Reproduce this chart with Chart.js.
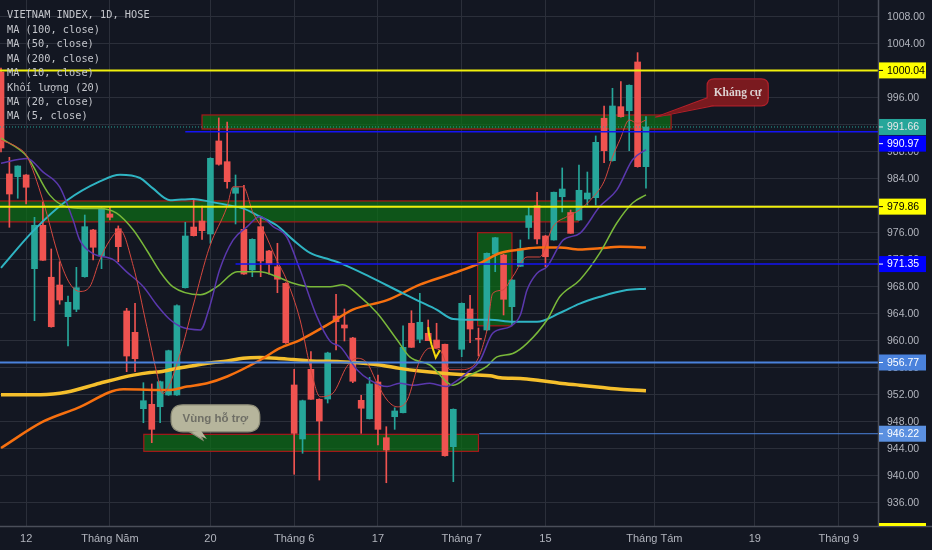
<!DOCTYPE html>
<html lang="vi">
<head>
<meta charset="utf-8">
<title>VIETNAM INDEX, 1D, HOSE</title>
<script src="https://cdn.jsdelivr.net/npm/chart.js@4.4.1/dist/chart.umd.min.js"></script>
<style>
html, body { margin: 0; padding: 0; background: #131722; }
#wrap { position: relative; width: 932px; height: 550px; }
</style>
</head>
<body>
<div id="wrap"><canvas id="chartVn"></canvas></div>
<script>
// time axis: trading day index of each label and its text
var dayTicks = [3, 13, 25, 35, 45, 55, 65, 78, 90, 100];
var dayLabels = ['12', 'Tháng Năm', '20', 'Tháng 6', '17', 'Tháng 7', '15', 'Tháng Tám', '19', 'Tháng 9'];
var priceTicks = [936, 940, 944, 948, 952, 956, 960, 964, 968, 972, 976, 980, 984, 988, 992, 996, 1000, 1004, 1008];

// daily candles (day 0 = first visible candle)
var opens = [999.8, 984.7, 984.3, 984.55, 970.67, 977.1, 969.4, 968.25, 963.56, 964.65,
    969.48, 976.4, 972.55, 978.77, 976.59, 964.4, 961.24, 949.93, 950.58, 950.22,
    951.96, 951.96, 967.85, 976.84, 977.73, 975.81, 989.59, 986.52, 981.84, 976.5,
    970.47, 976.89, 973.29, 970.96, 968.5, 953.44, 945.44, 955.76, 951.32, 951.36,
    963.66, 962.33, 960.4, 951.17, 948.44, 953.88, 945.63, 948.74, 949.33, 962.58,
    960.21, 961.1, 960.1, 959.47, 944.3, 958.73, 964.7, 960.33, 961.59, 972.84,
    972.7, 965.04, 971.02, 976.77, 980.0, 975.51, 974.92, 981.33, 978.99, 977.88,
    980.99, 981.19, 992.95, 986.67, 994.67, 994.07, 1001.29, 985.78];
var highs = [1000.4, 987.17, 985.9, 984.6, 978.28, 980.55, 973.59, 971.7, 966.62, 970.87,
    978.62, 976.5, 979.7, 979.85, 977.0, 964.8, 965.54, 953.78, 953.59, 954.0,
    958.6, 965.3, 977.54, 981.0, 979.96, 987.1, 993.0, 992.4, 984.55, 983.02,
    975.1, 978.37, 973.4, 974.43, 968.6, 955.76, 951.2, 958.37, 951.4, 958.3,
    966.87, 964.7, 960.5, 951.91, 954.58, 954.92, 947.26, 950.07, 962.22, 964.44,
    967.02, 963.07, 962.58, 959.5, 949.9, 965.6, 966.73, 961.88, 973.0, 975.3,
    972.8, 969.0, 974.92, 979.85, 981.99, 975.6, 982.0, 985.59, 979.36, 986.03,
    984.99, 990.33, 994.77, 997.39, 998.37, 997.9, 1002.67, 993.19];
var lows = [987.96, 976.8, 981.1, 980.25, 962.96, 971.9, 962.0, 965.4, 959.21, 964.3,
    969.4, 971.96, 970.67, 977.9, 971.7, 955.41, 955.41, 947.85, 944.89, 947.85,
    951.9, 951.9, 967.8, 975.5, 975.02, 974.43, 986.0, 982.58, 977.29, 969.8,
    969.48, 969.48, 969.84, 967.11, 959.6, 940.21, 943.32, 951.3, 939.36, 950.77,
    958.62, 959.96, 953.78, 946.28, 948.4, 944.55, 938.96, 946.87, 949.3, 959.0,
    959.7, 960.0, 958.9, 942.9, 939.11, 957.63, 959.7, 957.73, 961.5, 970.22,
    963.81, 962.33, 971.0, 975.07, 974.33, 970.96, 974.9, 979.07, 975.9, 977.8,
    980.1, 980.1, 986.37, 986.6, 993.1, 988.15, 985.7, 982.58];
var closes = [988.55, 981.73, 985.88, 982.73, 977.1, 971.91, 962.07, 966.03, 965.69, 967.85,
    976.89, 973.84, 979.61, 978.28, 973.93, 957.73, 957.33, 951.11, 946.87, 953.93,
    958.52, 965.19, 975.51, 975.56, 976.3, 987.02, 986.13, 983.56, 982.67, 969.88,
    975.02, 971.81, 971.36, 969.1, 959.7, 946.28, 951.11, 951.32, 948.1, 958.18,
    962.81, 961.88, 953.99, 949.99, 953.59, 946.87, 943.81, 949.59, 959.02, 959.02,
    962.73, 960.0, 958.92, 942.96, 949.84, 965.54, 961.73, 960.2, 972.95, 975.26,
    966.13, 968.99, 973.59, 978.52, 975.07, 972.44, 981.99, 982.47, 975.91, 982.28,
    981.88, 989.39, 988.15, 994.77, 993.19, 997.84, 985.78, 991.66];

// moving averages: day positions and values
var ma5Days = [0, 1.9, 3.1, 5.0, 7.0, 8.2, 9.4, 10.6, 11.8, 13.0, 14.2, 15.8, 17.4, 18.6, 19.3,
    21.4, 22.9, 24.9, 27.0, 27.7, 28.9, 30.1, 31.3, 32.9, 34.1, 35.7, 36.9, 38.1, 39.6,
    41.3, 42.5, 43.7, 44.9, 46.1, 47.3, 48.5, 50.0, 51.2, 52.4, 53.6, 54.8, 56.3, 58.0,
    58.7, 59.9, 61.1, 62.8, 64.3, 65.9, 67.6, 69.1, 70.7, 72.0, 73.0, 73.9, 75.0, 76.0, 77.0];
var ma5 = [989.7, 988.7, 987.3, 980.8, 972.0, 968.5, 967.3, 968.0, 972.0, 974.9, 976.4, 971.0, 962.1, 955.2, 952.2,
    958.1, 965.0, 973.9, 979.9, 982.8, 982.8, 978.9, 976.4, 972.0, 969.0, 963.1, 956.2, 951.7, 952.2,
    956.2, 957.4, 956.7, 953.7, 951.2, 950.2, 951.2, 957.1, 958.9, 958.6, 955.7, 955.7, 956.2, 961.5,
    967.0, 967.5, 969.5, 972.4, 972.4, 976.9, 978.4, 979.4, 981.3, 983.6, 987.2, 989.8, 992.7, 992.2, 992.7];
var ma10Days = [0, 3.1, 5.0, 7.0, 8.6, 9.4, 11.0, 13.4, 15.0, 17.0, 18.6, 20.2, 21.4, 23.8, 24.9, 26.1,
    27.7, 29.4, 30.9, 32.5, 34.1, 35.7, 37.7, 39.3, 40.5, 42.5, 44.0, 46.1, 47.6, 49.2, 51.2,
    53.2, 54.0, 55.6, 57.2, 58.7, 60.8, 62.0, 62.8, 64.0, 65.2, 67.1, 69.1, 71.5, 73.5, 75.4, 77.0];
var ma10 = [986.3, 987.0, 985.0, 982.8, 977.9, 974.9, 972.9, 972.0, 970.2, 968.0, 965.3, 963.1, 962.1, 961.6, 965.0, 970.5,
    974.9, 976.9, 978.4, 976.9, 975.4, 970.5, 963.6, 959.9, 959.1, 955.7, 954.2, 953.2, 953.7, 953.4, 953.7,
    953.2, 953.7, 955.2, 957.1, 961.1, 962.1, 963.8, 967.5, 970.0, 971.0, 974.9, 975.9, 979.9, 982.3, 986.8, 988.3];
var ma20Days = [0, 3.1, 5.8, 7.9, 9.8, 11.8, 13.8, 15.8, 17.4, 19.0, 20.5, 23.8, 25.8, 28.2, 30.9, 32.9,
    34.9, 36.9, 39.3, 40.8, 42.9, 44.9, 47.3, 48.8, 51.2, 54.0, 56.0, 58.0, 59.2, 61.1, 62.8,
    65.2, 66.7, 69.1, 71.5, 73.5, 75.4, 77.0];
var ma20 = [990.0, 987.3, 981.6, 979.8, 979.6, 979.6, 978.9, 976.4, 973.4, 970.2, 968.0, 966.8, 968.0, 970.2, 970.2, 969.5,
    968.5, 968.0, 968.0, 968.3, 966.5, 964.1, 960.1, 957.6, 956.4, 953.4, 954.9, 956.2, 957.6, 958.1, 959.6,
    963.1, 966.5, 969.0, 973.0, 977.4, 980.4, 981.6];
var ma50Days = [0, 3.8, 7.9, 11.8, 14.2, 16.6, 18.1, 20.2, 22.9, 24.9, 27.0, 28.9, 30.9, 32.9, 34.9, 36.9,
    39.3, 40.5, 44.0, 48.0, 50.0, 52.0, 54.0, 56.0, 58.4, 61.1, 64.0, 66.7, 69.1, 71.5, 74.7, 77.0];
var ma50 = [970.8, 976.2, 980.8, 983.6, 984.6, 984.1, 982.6, 980.8, 981.0, 980.6, 980.1, 979.6, 978.4, 977.1, 974.9, 973.0,
    972.0, 971.5, 969.5, 967.0, 965.8, 964.6, 963.2, 963.1, 963.1, 962.8, 962.8, 964.1, 965.5, 966.5, 967.5, 967.7];
var ma100Days = [0, 5.0, 9.1, 14.6, 20.2, 22.2, 24.6, 27.0, 30.9, 33.3, 35.7, 39.3, 42.0, 46.1, 50.0, 54.0,
    57.2, 59.6, 62.0, 64.3, 66.7, 69.1, 71.5, 73.9, 77.0];
var ma100 = [944.1, 948.0, 950.0, 952.8, 952.7, 953.2, 953.7, 954.7, 957.1, 958.9, 960.1, 962.6, 964.6, 966.0, 968.3, 970.0,
    971.5, 973.0, 973.5, 973.8, 973.8, 973.5, 973.7, 973.9, 973.8];
var ma200Days = [0, 4.7, 7.9, 11.8, 15.8, 17.8, 19.0, 21.0, 22.9, 24.9, 27.0, 28.9, 30.9, 32.9, 34.9, 36.9,
    40.5, 42.9, 45.2, 47.6, 50.0, 52.4, 54.8, 58.4, 59.6, 62.0, 64.3, 66.7, 69.1, 71.5, 73.9, 77.0];
var ma200 = [952.0, 952.0, 952.4, 953.7, 954.9, 955.3, 955.4, 955.9, 956.3, 956.7, 957.0, 957.4, 957.5, 957.4, 957.2, 957.0,
    956.9, 956.7, 956.4, 955.9, 955.5, 955.2, 955.0, 954.8, 954.5, 954.4, 954.1, 953.7, 953.4, 953.1, 952.8, 952.6];

// horizontal levels drawn on the chart
var levelPrices = [1000.04, 979.86, 990.97, 971.35, 956.77, 946.22];

var legendLines = ['VIETNAM INDEX, 1D, HOSE', 'MA (100, close)', 'MA (50, close)', 'MA (200, close)',
    'MA (10, close)', 'Khối lượng (20)', 'MA (20, close)', 'MA (5, close)'];

var UP = '#26a69a';
var DOWN = '#ef5350';
var GRID = '#2b2f3a';
var TEXT = '#b2b5be';

// styles of the levels (same order as levelPrices)
var levelStyles = [
    { from: -2, color: '#f0f00c', width: 2, bg: '#ffff00', fg: '#000000', shift: 0 },
    { from: -2, color: '#f0f00c', width: 2, bg: '#ffff00', fg: '#000000', shift: 0 },
    { from: 22.0, color: '#1414f5', width: 1.5, bg: '#0000ff', fg: '#ffffff', shift: 12 },
    { from: 28.0, color: '#1414f5', width: 1.5, bg: '#0000ff', fg: '#ffffff', shift: 0 },
    { from: -2, color: '#4a82dc', width: 2, bg: '#4a82dc', fg: '#ffffff', shift: 0 },
    { from: 57.1, color: '#4a82dc', width: 1, bg: '#5b90e0', fg: '#ffffff', shift: 0 }
];

// rectangles drawn on the chart, in day / price units
var zones = [
    { x1: 24.0, x2: 80.0, top: 993.44, bottom: 991.36 },
    { x1: -2, x2: 68.9, top: 980.7, bottom: 977.6 },
    { x1: 56.9, x2: 61.0, top: 976.0, bottom: 962.2 },
    { x1: 17.05, x2: 57.0, top: 946.13, bottom: 943.61 }
];

var callouts = [
    { text: 'Kháng cự', x1: 84.3, x2: 91.6, top: 998.8, bottom: 994.8,
      tip: [78.1, 993.1], base: [[84.4, 996.0], [85.0, 994.8]],
      fill: '#7a1a1f', stroke: '#b0202a', color: '#ddd2d2', font: 'bold 11.5px "Liberation Serif"', radius: 7 },
    { text: 'Vùng hỗ trợ', x1: 20.3, x2: 30.9, top: 950.5, bottom: 946.5,
      tip: [24.1, 945.3], base: [[22.5, 946.5], [23.7, 946.5]],
      fill: '#b6b59c', stroke: '#8e8d78', color: '#6f6f66', font: 'bold 11.5px "Liberation Sans"', radius: 12 }
];

var squiggle = [[51.0, 962.0], [51.1, 960.9], [51.4, 959.4], [51.9, 957.5], [52.4, 958.6]];

function roundRect(ctx, x, y, w, h, r) {
    ctx.beginPath();
    ctx.moveTo(x + r, y);
    ctx.lineTo(x + w - r, y);
    ctx.quadraticCurveTo(x + w, y, x + w, y + r);
    ctx.lineTo(x + w, y + h - r);
    ctx.quadraticCurveTo(x + w, y + h, x + w - r, y + h);
    ctx.lineTo(x + r, y + h);
    ctx.quadraticCurveTo(x, y + h, x, y + h - r);
    ctx.lineTo(x, y + r);
    ctx.quadraticCurveTo(x, y, x + r, y);
    ctx.closePath();
}

function clipArea(chart) {
    var a = chart.chartArea;
    var ctx = chart.ctx;
    ctx.save();
    ctx.beginPath();
    ctx.rect(a.left, a.top, a.right - a.left, a.bottom - a.top);
    ctx.clip();
}

// no extra room for the edge labels: the plot fills the canvas
function noPadding(scale) {
    scale.paddingTop = 0;
    scale.paddingBottom = 0;
    scale.paddingLeft = 0;
    scale.paddingRight = 0;
}

var drawings = {
    id: 'drawings',
    beforeDraw: function (chart) {
        var ctx = chart.ctx;
        ctx.save();
        ctx.fillStyle = '#131722';
        ctx.fillRect(0, 0, chart.width, chart.height);
        ctx.restore();
    },
    beforeDatasetsDraw: function (chart) {
        var ctx = chart.ctx, xs = chart.scales.x, ys = chart.scales.y;
        clipArea(chart);
        zones.forEach(function (z) {
            var x1 = xs.getPixelForValue(z.x1), x2 = xs.getPixelForValue(z.x2);
            var y1 = ys.getPixelForValue(z.top), y2 = ys.getPixelForValue(z.bottom);
            ctx.fillStyle = 'rgba(12,110,22,0.72)';
            ctx.fillRect(x1, y1, x2 - x1, y2 - y1);
            ctx.strokeStyle = '#a8181a';
            ctx.lineWidth = 1.2;
            ctx.strokeRect(x1, y1, x2 - x1, y2 - y1);
        });
        ctx.restore();
    },
    afterDatasetsDraw: function (chart) {
        var ctx = chart.ctx, xs = chart.scales.x, ys = chart.scales.y, a = chart.chartArea;
        clipArea(chart);
        // last price line
        var yl = ys.getPixelForValue(closes[closes.length - 1]);
        ctx.strokeStyle = UP;
        ctx.lineWidth = 1;
        ctx.setLineDash([1, 2]);
        ctx.beginPath();
        ctx.moveTo(a.left, yl);
        ctx.lineTo(a.right, yl);
        ctx.stroke();
        ctx.setLineDash([]);
        // horizontal levels
        levelPrices.forEach(function (p, i) {
            var s = levelStyles[i];
            var y = ys.getPixelForValue(p);
            ctx.strokeStyle = s.color;
            ctx.lineWidth = s.width;
            ctx.beginPath();
            ctx.moveTo(xs.getPixelForValue(s.from), y);
            ctx.lineTo(a.right, y);
            ctx.stroke();
        });
        // small yellow mark
        ctx.strokeStyle = '#f2d60c';
        ctx.lineWidth = 2;
        ctx.beginPath();
        squiggle.forEach(function (pt, i) {
            var x = xs.getPixelForValue(pt[0]), y = ys.getPixelForValue(pt[1]);
            if (i === 0) ctx.moveTo(x, y); else ctx.lineTo(x, y);
        });
        ctx.stroke();
        // callouts
        callouts.forEach(function (c) {
            var x1 = xs.getPixelForValue(c.x1), x2 = xs.getPixelForValue(c.x2);
            var y1 = ys.getPixelForValue(c.top), y2 = ys.getPixelForValue(c.bottom);
            var tx = xs.getPixelForValue(c.tip[0]), ty = ys.getPixelForValue(c.tip[1]);
            ctx.fillStyle = c.fill;
            ctx.strokeStyle = c.stroke;
            ctx.lineWidth = 1.2;
            ctx.beginPath();
            ctx.moveTo(xs.getPixelForValue(c.base[0][0]), ys.getPixelForValue(c.base[0][1]));
            ctx.lineTo(tx, ty);
            ctx.lineTo(xs.getPixelForValue(c.base[1][0]), ys.getPixelForValue(c.base[1][1]));
            ctx.closePath();
            ctx.fill();
            ctx.stroke();
            roundRect(ctx, x1, y1, x2 - x1, y2 - y1, c.radius);
            ctx.fill();
            ctx.stroke();
            ctx.beginPath();
            ctx.moveTo(xs.getPixelForValue(c.base[0][0]) + 1.5, ys.getPixelForValue(c.base[0][1]));
            ctx.lineTo(tx + 4, ty - 1);
            ctx.lineTo(xs.getPixelForValue(c.base[1][0]) + 1.5, ys.getPixelForValue(c.base[1][1]) - 1);
            ctx.closePath();
            ctx.fill();
            ctx.fillStyle = c.color;
            ctx.font = c.font;
            ctx.textAlign = 'center';
            ctx.textBaseline = 'middle';
            ctx.fillText(c.text, (x1 + x2) / 2, (y1 + y2) / 2 + 0.5);
        });
        ctx.restore();
        // legend of the studies, top left
        ctx.save();
        ctx.fillStyle = '#c3c5cb';
        ctx.font = '10.3px "DejaVu Sans Mono"';
        ctx.textAlign = 'left';
        ctx.textBaseline = 'middle';
        legendLines.forEach(function (t, i) {
            ctx.fillText(t, 7, 15.7 + i * 14.43);
        });
        ctx.restore();
    },
    afterDraw: function (chart) {
        var ctx = chart.ctx, ys = chart.scales.y, a = chart.chartArea;
        ctx.save();
        ctx.strokeStyle = '#4a4e59';
        ctx.lineWidth = 1.5;
        ctx.beginPath();
        ctx.moveTo(0, a.bottom + 0.5);
        ctx.lineTo(chart.width, a.bottom + 0.5);
        ctx.moveTo(a.right + 0.5, 0);
        ctx.lineTo(a.right + 0.5, a.bottom);
        ctx.stroke();
        // price labels on the right axis
        ctx.beginPath();
        ctx.rect(a.right + 1, 0, chart.width - a.right, a.bottom);
        ctx.clip();
        ctx.font = '10.5px "Liberation Sans"';
        ctx.textAlign = 'left';
        ctx.textBaseline = 'middle';
        function tag(price, bg, fg, shift) {
            var y = ys.getPixelForValue(price) + shift;
            ctx.fillStyle = bg;
            ctx.fillRect(a.right + 1, y - 8, 47, 16);
            ctx.fillStyle = fg;
            ctx.fillRect(a.right + 1, y - 0.5, 4, 1);
            ctx.fillText(price.toFixed(2), a.right + 9, y + 0.5);
        }
        tag(closes[closes.length - 1], UP, '#e8e8e8', 0);
        levelPrices.forEach(function (p, i) {
            tag(p, levelStyles[i].bg, levelStyles[i].fg, levelStyles[i].shift);
        });
        ctx.fillStyle = '#ffff00';
        ctx.fillRect(a.right + 1, a.bottom - 3, 47, 3);
        ctx.restore();
    }
};

var candleColors = closes.map(function (c, i) { return c >= opens[i] ? UP : DOWN; });

function pairs(days, values) {
    return days.map(function (d, i) { return { x: d, y: values[i] }; });
}

function maLine(label, days, values, color, width, order) {
    return {
        type: 'line',
        label: label,
        data: pairs(days, values),
        borderColor: color,
        borderWidth: width,
        pointRadius: 0,
        cubicInterpolationMode: 'monotone',
        fill: false,
        order: order
    };
}

Chart.defaults.font.family = '"Liberation Sans", Arial, sans-serif';

var ctx = document.getElementById('chartVn');
var myChart = new Chart(ctx, {
    type: 'bar',
    data: {
        datasets: [
            {
                label: 'wick',
                data: closes.map(function (c, i) { return { x: i, y: [lows[i], highs[i]] }; }),
                backgroundColor: candleColors,
                barThickness: 1,
                grouped: false,
                minBarLength: 1,
                order: 11
            },
            {
                label: 'VIETNAM INDEX',
                data: closes.map(function (c, i) { return { x: i, y: [opens[i], c] }; }),
                backgroundColor: candleColors,
                barThickness: 6,
                grouped: false,
                minBarLength: 1,
                order: 10
            },
            maLine('MA (200, close)', ma200Days, ma200, '#f5bf2c', 3.5, 5),
            maLine('MA (100, close)', ma100Days, ma100, '#f7700f', 2.5, 4),
            maLine('MA (50, close)', ma50Days, ma50, '#2fb4c3', 2, 3),
            maLine('MA (20, close)', ma20Days, ma20, '#79b83a', 1.5, 2),
            maLine('MA (10, close)', ma10Days, ma10, '#5a38ad', 1.5, 1),
            maLine('MA (5, close)', ma5Days, ma5, '#d5483f', 1, 0)
        ]
    },
    options: {
        responsive: true,
        maintainAspectRatio: false,
        animation: false,
        events: [],
        layout: { padding: 0 },
        plugins: {
            legend: { display: false },
            tooltip: { enabled: false }
        },
        scales: {
            x: {
                type: 'linear',
                min: -0.12,
                max: 104.7,
                offset: false,
                grid: { color: GRID, drawTicks: false, offset: false },
                border: { display: false },
                afterBuildTicks: function (scale) {
                    scale.ticks = dayTicks.map(function (v) { return { value: v }; });
                },
                afterFit: function (scale) {
                    scale.height = 24;
                    noPadding(scale);
                },
                ticks: {
                    color: TEXT,
                    font: { size: 11 },
                    padding: 6,
                    maxRotation: 0,
                    autoSkip: false,
                    callback: function (v) {
                        var k = dayTicks.indexOf(v);
                        return k >= 0 ? dayLabels[k] : '';
                    }
                }
            },
            y: {
                type: 'linear',
                position: 'right',
                min: 932.55,
                max: 1010.47,
                grid: { color: GRID, drawTicks: false },
                border: { display: false },
                afterBuildTicks: function (scale) {
                    scale.ticks = priceTicks.map(function (v) { return { value: v }; });
                },
                afterFit: function (scale) {
                    scale.width = 54;
                    noPadding(scale);
                },
                ticks: {
                    color: TEXT,
                    font: { size: 10.5 },
                    padding: 9,
                    callback: function (v) { return v.toFixed(2); }
                }
            }
        }
    },
    plugins: [drawings]
});
</script>
</body>
</html>
